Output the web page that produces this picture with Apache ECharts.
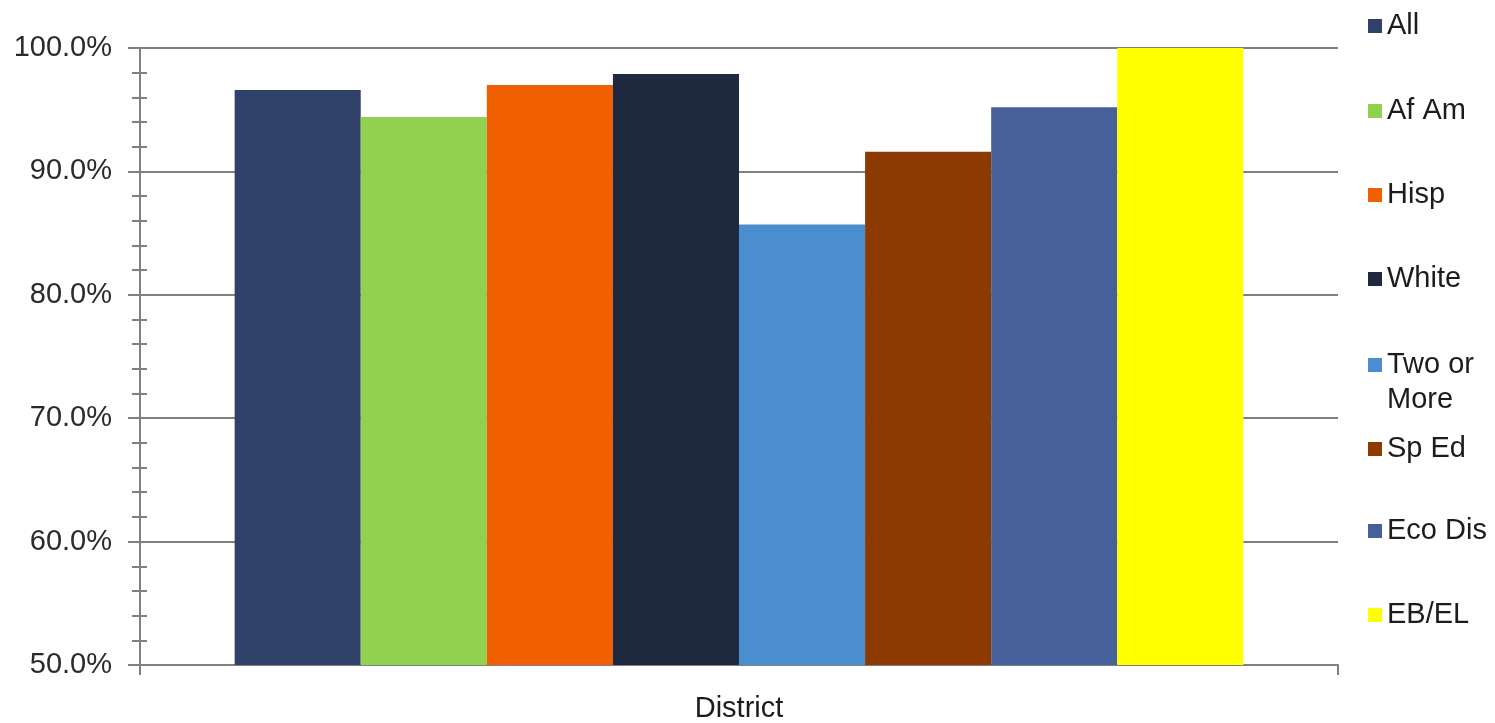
<!DOCTYPE html>
<html>
<head>
<meta charset="utf-8">
<script src="https://cdn.jsdelivr.net/npm/echarts@6/dist/echarts.min.js"></script>
<style>
html,body{margin:0;padding:0;background:#fff;}
#chart{width:1495px;height:723px;}
</style>
</head>
<body>
<div id="chart"></div>
<script>
const categories = ['District'];
const seriesNames = ['All', 'Af Am', 'Hisp', 'White', 'Two or More', 'Sp Ed', 'Eco Dis', 'EB/EL'];
const seriesValues = [96.6, 94.4, 97.0, 97.9, 85.7, 91.6, 95.2, 100.0];
const seriesColors = ['#30416A', '#92D050', '#F06000', '#1E283E', '#4A8ED0', '#8C3A02', '#46609A', '#FFFF00'];
const legendLabels = ['All', 'Af Am', 'Hisp', 'White', 'Two or\nMore', 'Sp Ed', 'Eco Dis', 'EB/EL'];
const legendCenters = [23, 108, 192, 276, 362, 446, 528, 612];

const FONT = '"Liberation Sans", Arial, sans-serif';
const chart = echarts.init(document.getElementById('chart'), null, {renderer: 'canvas'});

const legends = seriesNames.map((name, i) => {
  const multi = legendLabels[i].indexOf('\n') >= 0;
  return {
    data: [name],
    orient: 'vertical',
    left: 1368,
    top: multi ? legendCenters[i] - 49.5 : legendCenters[i] - 14.5,
    padding: 0,
    icon: 'rect',
    itemWidth: 14,
    itemHeight: 14,
    selectedMode: false,
    // a blank first line keeps the icon level with the first text line
    formatter: () => (multi ? ' \n' : '') + legendLabels[i],
    textStyle: {
      fontFamily: FONT,
      fontSize: 29,
      lineHeight: 35,
      color: '#1c1c1c'
    }
  };
});

const axisGray = '#808080';

const option = {
  backgroundColor: '#ffffff',
  animation: false,
  legend: legends,
  grid: {left: 140, right: 157, top: 48, bottom: 56, containLabel: false},
  xAxis: {
    type: 'category',
    data: categories,
    boundaryGap: true,
    axisLine: {show: true, lineStyle: {color: axisGray, width: 2}},
    axisTick: {show: true, length: 10, alignWithLabel: false, lineStyle: {color: axisGray, width: 2}},
    axisLabel: {fontFamily: FONT, fontSize: 29, color: '#1c1c1c', margin: 29},
    splitLine: {show: false}
  },
  yAxis: [
    {
      type: 'value',
      min: 50, max: 100, interval: 10,
      axisLine: {show: true, lineStyle: {color: axisGray, width: 2}},
      axisTick: {show: true, inside: false, length: 12, lineStyle: {color: axisGray, width: 2}},
      minorTick: {show: true, splitNumber: 5, length: 8, lineStyle: {color: axisGray, width: 2}},
      axisLabel: {fontFamily: FONT, fontSize: 29, color: '#2a2a2a', margin: 28,
        formatter: v => v.toFixed(1) + '%'},
      splitLine: {show: true, lineStyle: {color: axisGray, width: 2}}
    },
    {
      type: 'value',
      position: 'left',
      min: 50, max: 100, interval: 10,
      axisLine: {show: false},
      axisTick: {show: true, inside: true, length: 7, lineStyle: {color: axisGray, width: 2}},
      minorTick: {show: true, splitNumber: 5, length: 7, lineStyle: {color: axisGray, width: 2}},
      axisLabel: {show: false},
      splitLine: {show: false}
    }
  ],
  series: seriesNames.map((name, i) => ({
    name: name,
    type: 'bar',
    yAxisIndex: 0,
    data: [seriesValues[i]],
    barGap: '0%',
    barCategoryGap: '15.8%',
    itemStyle: {color: seriesColors[i]},
    emphasis: {disabled: true}
  }))
};

chart.setOption(option);
</script>
</body>
</html>
